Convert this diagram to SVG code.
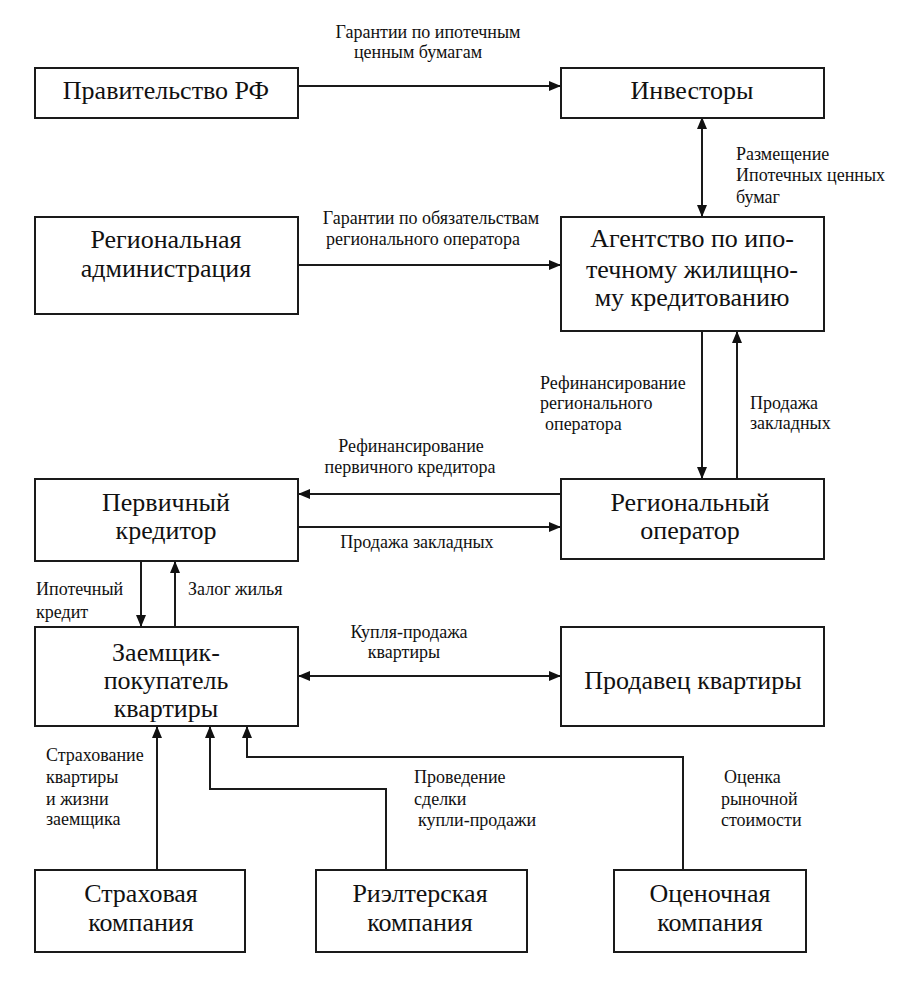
<svg xmlns="http://www.w3.org/2000/svg" width="914" height="990" viewBox="0 0 914 990">
<style>
.box{fill:#fff;stroke:#1a1a1a;stroke-width:2}
.bt{font-family:'Liberation Serif','Times New Roman',serif;font-size:26px;fill:#111;text-anchor:middle}
.lb{font-family:'Liberation Serif','Times New Roman',serif;font-size:18px;fill:#111}
.c{fill:none;stroke:#1a1a1a;stroke-width:2}
</style>
<defs>
<marker id="ah" markerUnits="userSpaceOnUse" markerWidth="12" markerHeight="10" refX="11" refY="5" orient="auto-start-reverse">
<path d="M0,0 L12,5 L0,10 Z" fill="#111"/>
</marker>
</defs>
<rect width="914" height="990" fill="#fff"/>
<g id="connectors">
<line class="c" x1="298" y1="86" x2="560" y2="86" marker-end="url(#ah)"/>
<line class="c" x1="702" y1="118" x2="702" y2="216" marker-start="url(#ah)" marker-end="url(#ah)"/>
<line class="c" x1="298" y1="265" x2="560" y2="265" marker-end="url(#ah)"/>
<line class="c" x1="702" y1="331" x2="702" y2="478" marker-end="url(#ah)"/>
<line class="c" x1="737" y1="479" x2="737" y2="332" marker-end="url(#ah)"/>
<line class="c" x1="561" y1="494" x2="299" y2="494" marker-end="url(#ah)"/>
<line class="c" x1="298" y1="527" x2="560" y2="527" marker-end="url(#ah)"/>
<line class="c" x1="141" y1="561" x2="141" y2="626" marker-end="url(#ah)"/>
<line class="c" x1="175" y1="627" x2="175" y2="562" marker-end="url(#ah)"/>
<line class="c" x1="299" y1="676" x2="560" y2="676" marker-start="url(#ah)" marker-end="url(#ah)"/>
<line class="c" x1="157" y1="870" x2="157" y2="727" marker-end="url(#ah)"/>
<polyline class="c" points="386,870 386,789 210,789 210,727" marker-end="url(#ah)"/>
<polyline class="c" points="683,870 683,757 247,757 247,727" marker-end="url(#ah)"/>
</g>
<g id="labels">
<text class="lb" x="428" y="38" text-anchor="middle">Гарантии по ипотечным</text>
<text class="lb" x="418" y="58" text-anchor="middle">ценным бумагам</text>
<text class="lb" x="736" y="160">Размещение</text>
<text class="lb" x="736" y="181">Ипотечных ценных</text>
<text class="lb" x="736" y="203">бумаг</text>
<text class="lb" x="431" y="224" text-anchor="middle">Гарантии по обязательствам</text>
<text class="lb" x="423" y="245" text-anchor="middle">регионального оператора</text>
<text class="lb" x="540" y="389">Рефинансирование</text>
<text class="lb" x="540" y="409">регионального</text>
<text class="lb" x="545" y="430">оператора</text>
<text class="lb" x="750" y="409">Продажа</text>
<text class="lb" x="750" y="429">закладных</text>
<text class="lb" x="411" y="452" text-anchor="middle">Рефинансирование</text>
<text class="lb" x="410" y="473" text-anchor="middle">первичного кредитора</text>
<text class="lb" x="417" y="548" text-anchor="middle">Продажа закладных</text>
<text class="lb" x="36" y="595">Ипотечный</text>
<text class="lb" x="36" y="618">кредит</text>
<text class="lb" x="188" y="595">Залог жилья</text>
<text class="lb" x="409" y="638" text-anchor="middle">Купля-продажа</text>
<text class="lb" x="404" y="658" text-anchor="middle">квартиры</text>
<text class="lb" x="46" y="761">Страхование</text>
<text class="lb" x="46" y="783">квартиры</text>
<text class="lb" x="46" y="805">и жизни</text>
<text class="lb" x="46" y="825">заемщика</text>
<text class="lb" x="414" y="783">Проведение</text>
<text class="lb" x="414" y="805">сделки</text>
<text class="lb" x="418" y="826">купли-продажи</text>
<text class="lb" x="724" y="783">Оценка</text>
<text class="lb" x="721" y="805">рыночной</text>
<text class="lb" x="721" y="826">стоимости</text>
</g>
<g id="n-government">
<rect class="box" x="35" y="68" width="263" height="50"/>
<text class="bt" x="166" y="99">Правительство РФ</text>
</g>
<g id="n-investors">
<rect class="box" x="561" y="68" width="263" height="50"/>
<text class="bt" x="692" y="99">Инвесторы</text>
</g>
<g id="n-regadmin">
<rect class="box" x="35" y="217" width="263" height="97"/>
<text class="bt" x="166" y="248">Региональная</text>
<text class="bt" x="166" y="277">администрация</text>
</g>
<g id="n-agency">
<rect class="box" x="561" y="217" width="263" height="114"/>
<text class="bt" x="692" y="247">Агентство по ипо-</text>
<text class="bt" x="692" y="278">течному жилищно-</text>
<text class="bt" x="692" y="306">му кредитованию</text>
</g>
<g id="n-primary">
<rect class="box" x="35" y="479" width="263" height="82"/>
<text class="bt" x="166" y="511">Первичный</text>
<text class="bt" x="166" y="539">кредитор</text>
</g>
<g id="n-regoperator">
<rect class="box" x="561" y="479" width="263" height="80"/>
<text class="bt" x="690" y="511">Региональный</text>
<text class="bt" x="690" y="539">оператор</text>
</g>
<g id="n-borrower">
<rect class="box" x="35" y="627" width="263" height="99"/>
<text class="bt" x="166" y="661">Заемщик-</text>
<text class="bt" x="166" y="689">покупатель</text>
<text class="bt" x="166" y="717">квартиры</text>
</g>
<g id="n-seller">
<rect class="box" x="561" y="627" width="263" height="99"/>
<text class="bt" x="693" y="689">Продавец квартиры</text>
</g>
<g id="n-insurance">
<rect class="box" x="35" y="870" width="210" height="82"/>
<text class="bt" x="141" y="902">Страховая</text>
<text class="bt" x="141" y="931">компания</text>
</g>
<g id="n-realtor">
<rect class="box" x="316" y="870" width="211" height="82"/>
<text class="bt" x="420" y="902">Риэлтерская</text>
<text class="bt" x="420" y="931">компания</text>
</g>
<g id="n-appraisal">
<rect class="box" x="614" y="870" width="192" height="82"/>
<text class="bt" x="710" y="902">Оценочная</text>
<text class="bt" x="710" y="931">компания</text>
</g>
</svg>
